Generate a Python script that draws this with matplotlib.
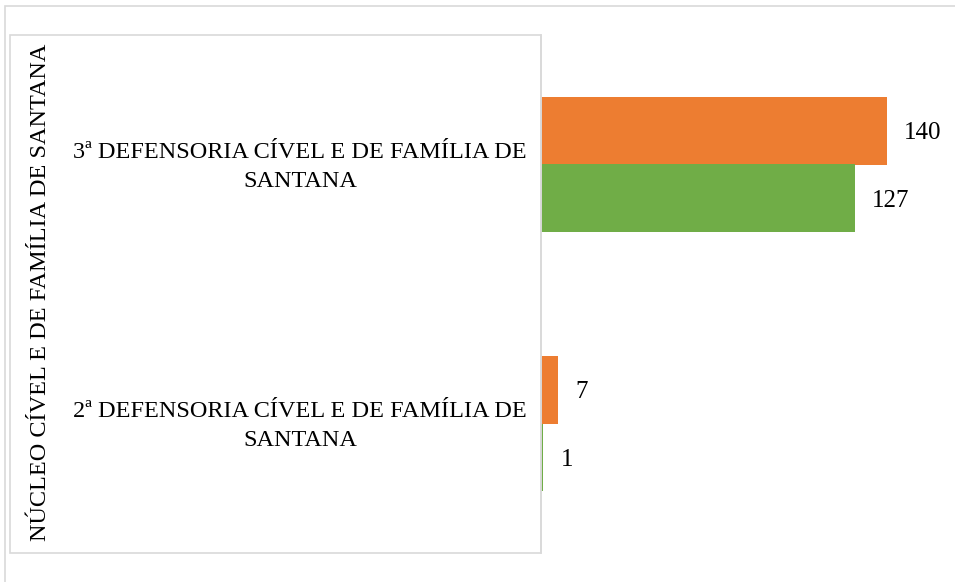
import matplotlib.pyplot as plt
from matplotlib.patches import Rectangle

plt.rcParams['font.family'] = ['Liberation Serif', 'DejaVu Serif']

categories = ['2ª DEFENSORIA CÍVEL E DE FAMÍLIA DE\nSANTANA',
              '3ª DEFENSORIA CÍVEL E DE FAMÍLIA DE\nSANTANA']
group = 'NÚCLEO CÍVEL E DE FAMÍLIA DE SANTANA'
orange_vals = [7, 140]
green_vals = [1, 127]

W, H = 955, 582
fig = plt.figure(figsize=(W / 100, H / 100), dpi=100)

# plot area: x 541..950, y 35..553 (pixels from top)
ax = fig.add_axes([541 / W, 1 - 553 / H, (950 - 541) / W, (553 - 35) / H])
h = 0.26
pos = list(range(len(categories)))
ax.barh([p + h / 2 for p in pos], orange_vals, height=h, color='#ED7D31')
ax.barh([p - h / 2 for p in pos], green_vals, height=h, color='#70AD47')
ax.set_ylim(-0.5, 1.5)
ax.set_xlim(0, 165.5)
for p, v in zip(pos, orange_vals):
    ax.text(v + 7, p + h / 2 - 0.01, str(v), va='center', ha='left', fontsize=18)
for p, v in zip(pos, green_vals):
    ax.text(v + 7, p - h / 2 - 0.01, str(v), va='center', ha='left', fontsize=18)
ax.set_xticks([])
ax.set_yticks([])
for s in ['top', 'right', 'bottom']:
    ax.spines[s].set_visible(False)
ax.spines['left'].set_color('#d9d9d9')
ax.spines['left'].set_linewidth(1.2)

# category labels
for p, c in zip(pos, categories):
    y = ax.transData.transform((0, p - 0.01))[1] / H
    fig.text(300 / W, y, c, ha='center', va='center', fontsize=17.5,
             linespacing=1.45)
fig.text(41 / W, 1 - 292 / H, group, rotation=90, ha='center', va='center',
         fontsize=17.5)

# category box
fig.patches.append(Rectangle((10 / W, 1 - 553 / H), (541 - 10) / W, (553 - 35) / H,
                             transform=fig.transFigure, fill=False,
                             edgecolor='#d9d9d9', linewidth=1.2))
# outer chart border
fig.patches.append(Rectangle((5 / W, -0.05), 1, 1 - 6 / H + 0.05,
                             transform=fig.transFigure, fill=False,
                             edgecolor='#d9d9d9', linewidth=1.2))

fig.savefig('out.png', dpi=100)
